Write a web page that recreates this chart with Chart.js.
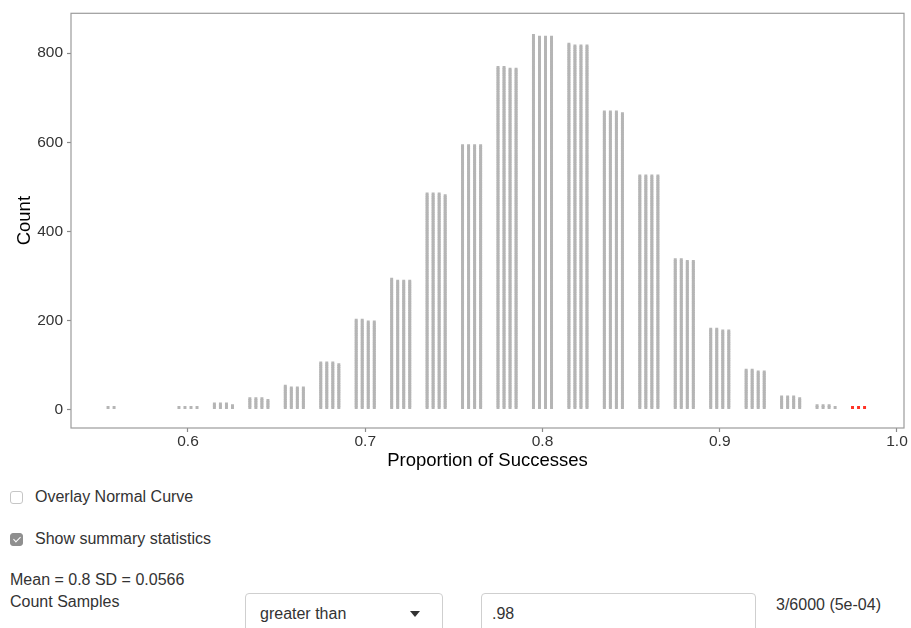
<!DOCTYPE html>
<html>
<head>
<meta charset="utf-8">
<title>Proportion of Successes</title>
<script src="https://cdn.jsdelivr.net/npm/chart.js@4/dist/chart.umd.min.js"></script>
<style>
  html, body { margin: 0; padding: 0; background: #fff; }
  body {
    width: 911px; height: 628px; overflow: hidden; position: relative;
    font-family: "Liberation Sans", Arial, Helvetica, sans-serif; color: #333;
  }
  #plot { position: absolute; left: 0; top: 0; width: 911px; height: 475px; }
  .ctl { position: absolute; font-size: 16px; line-height: 18px; white-space: nowrap; }
  .box {
    position: absolute; width: 11px; height: 11px; border: 1px solid #c6c6c6;
    border-radius: 3px; background: #fff;
  }
  .box.on { background: #8f8f8f; border-color: #8f8f8f; }
  .box.on::after {
    content: ""; position: absolute; left: 3.5px; top: 1px; width: 3px; height: 6px;
    border: solid #fff; border-width: 0 1.5px 1.5px 0; transform: rotate(45deg);
  }
  .field {
    position: absolute; top: 593px; height: 50px; border: 1px solid #cfcfcf;
    border-radius: 4px; background: #fff; box-sizing: border-box;
  }
  .field span { position: absolute; top: 11px; font-size: 16px; line-height: 18px; color: #333; }
  .caret {
    position: absolute; left: 164px; top: 17px; width: 0; height: 0;
    border-left: 5px solid transparent; border-right: 5px solid transparent; border-top: 6px solid #333;
  }
</style>
</head>
<body>
<canvas id="plot" width="911" height="475"></canvas>

<div class="box" style="left:10px; top:491px;"></div>
<div class="ctl" style="left:35px; top:488px;">Overlay Normal Curve</div>

<div class="box on" style="left:10px; top:533px;"></div>
<div class="ctl" style="left:35px; top:530px;">Show summary statistics</div>

<div class="ctl" style="left:10px; top:571px;">Mean = 0.8 SD = 0.0566</div>
<div class="ctl" style="left:10px; top:593px;">Count Samples</div>

<div class="field" style="left:245px; width:198px;">
  <span style="left:14px;">greater than</span>
  <div class="caret"></div>
</div>
<div class="field" style="left:481px; width:275px;">
  <span style="left:10px;">.98</span>
</div>
<div class="ctl" style="left:776px; top:596px;">3/6000 (5e-04)</div>

<script>
// Sample proportions (k / 50) and how many of the 6000 simulated samples hit each one
const proportions = [0.56, 0.58, 0.60, 0.62, 0.64, 0.66, 0.68, 0.70, 0.72, 0.74, 0.76,
                     0.78, 0.80, 0.82, 0.84, 0.86, 0.88, 0.90, 0.92, 0.94, 0.96, 0.98];
const counts = [2, 0, 4, 11, 23, 49, 103, 198, 289, 483, 592,
                766, 837, 817, 667, 524, 334, 178, 86, 27, 7, 3];

// Axis tick labels
const xTickValues = [0.6, 0.7, 0.8, 0.9, 1.0];
const yTickValues = [0, 200, 400, 600, 800];

// Samples at or above this proportion are highlighted
const cutoff = 0.98;

// Each proportion's dots are stacked in rows of four side-by-side columns
const perRow = 4;
const colStep = 0.0034;

function stackDots(keep) {
  const pts = [];
  proportions.forEach((p, k) => {
    if (!keep(p)) return;
    for (let i = 0; i < counts[k]; i++) {
      const col = i % perRow;
      const row = Math.floor(i / perRow);
      pts.push({ x: p + (col - (perRow - 1) / 2) * colStep, y: perRow * (row + 1) });
    }
  });
  return pts;
}

// Grey frame around the plotting panel
const panelBorder = {
  id: 'panelBorder',
  afterDraw(chart) {
    const { ctx, chartArea: a } = chart;
    ctx.save();
    ctx.strokeStyle = '#9c9c9c';
    ctx.lineWidth = 1.2;
    ctx.strokeRect(a.left, a.top, a.right - a.left, a.bottom - a.top);
    ctx.restore();
  }
};

const tickFont = { family: '"Liberation Sans", Arial, sans-serif', size: 15.5 };
const titleFont = { family: '"Liberation Sans", Arial, sans-serif', size: 18.5 };
const tickGrid = { drawOnChartArea: false, drawTicks: true, tickLength: 4, tickColor: '#8a8a8a', tickWidth: 1.2 };
const dotStyle = { pointStyle: 'rect', pointRadius: 2.1, pointHoverRadius: 2.1, pointBorderWidth: 0 };

new Chart(document.getElementById('plot'), {
  type: 'scatter',
  data: {
    datasets: [
      Object.assign({ data: stackDots(p => p < cutoff), pointBackgroundColor: '#b5b5b5' }, dotStyle),
      Object.assign({ data: stackDots(p => p >= cutoff), pointBackgroundColor: '#ff3326' }, dotStyle)
    ]
  },
  options: {
    responsive: false,
    animation: false,
    devicePixelRatio: 1,
    events: [],
    layout: { padding: { top: 12, right: 7, left: 0, bottom: 0 } },
    plugins: { legend: { display: false }, tooltip: { enabled: false } },
    scales: {
      x: {
        type: 'linear', min: 0.534, max: 1.00395,
        afterBuildTicks: s => { s.ticks = xTickValues.map(v => ({ value: v })); },
        afterFit: s => { s.height = 47; },
        ticks: { font: tickFont, color: '#333', padding: 0, maxRotation: 0, autoSkip: false,
                 callback: v => v.toFixed(1) },
        grid: tickGrid,
        border: { display: false },
        title: { display: true, text: 'Proportion of Successes', font: titleFont, color: '#000',
                 padding: { top: 0, bottom: 3 } }
      },
      y: {
        type: 'linear', min: -41.9, max: 889.6,
        afterBuildTicks: s => { s.ticks = yTickValues.map(v => ({ value: v })); },
        afterFit: s => { s.width = 71; },
        ticks: { font: tickFont, color: '#333', padding: 4 },
        grid: tickGrid,
        border: { display: false },
        title: { display: true, text: 'Count', font: titleFont, color: '#000',
                 padding: { top: 14, bottom: 0 } }
      }
    }
  },
  plugins: [panelBorder]
});
</script>
</body>
</html>
